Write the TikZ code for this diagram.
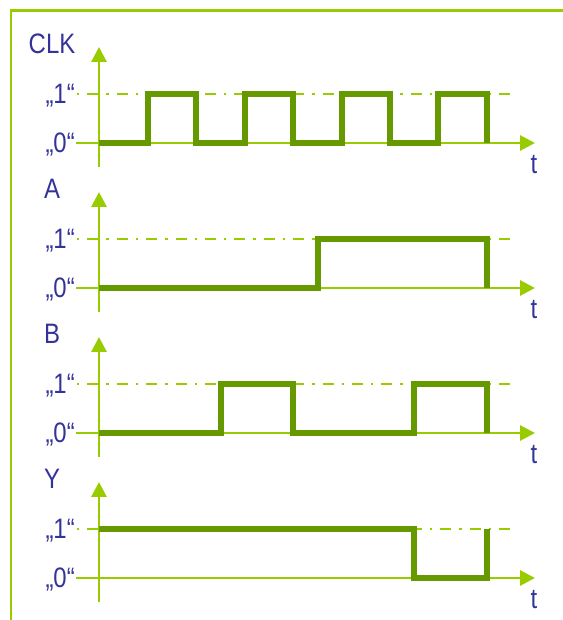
\documentclass[tikz,border=0pt]{standalone}
\usepackage{fontspec}
\setmainfont{Liberation Sans}
\newfontfamily\lblfont[FakeStretch=0.85]{Liberation Sans}
\usetikzlibrary{arrows.meta}
\definecolor{lime}{HTML}{99CC00}
\definecolor{wavegreen}{HTML}{669900}
\definecolor{navy}{HTML}{333399}
\tikzset{
  axisarrow/.style={-{Triangle[length=0.37cm,width=0.37cm]}, line width=2.1pt, color=lime},
  framebar/.style={line width=2pt, color=lime},
  lvlline/.style={line width=1.8pt, color=lime,
    dash pattern=on 0.06cm off 0.2cm on 0.275cm off 0.2cm},
  wave/.style={line width=3.6pt, color=wavegreen},
  lbl/.style={font=\lblfont\fontsize{20}{24}\selectfont, text=navy, inner sep=0pt},
}
\begin{document}
\begin{tikzpicture}[x=0.025cm, y=-0.025cm]
  \useasboundingbox (0,0) rectangle (563,620);
  \draw[framebar] (11,620) |- (563,10.5);
  % one panel per signal
  \foreach \sig/\dy in {CLK/0, A/145, B/290, Y/435} {
    \begin{scope}[shift={(0,\dy)}]
      \coordinate (\sig-bot) at (99,167);
      \coordinate (\sig-top) at (99,47);
      \coordinate (\sig-beg) at (76,143);
      \coordinate (\sig-end) at (535,143);
      \draw[lvlline] (77,94) -- (512,94);
      \draw[axisarrow] (\sig-bot) -- (\sig-top);
      \draw[axisarrow] (\sig-beg) -- (\sig-end);
      \node[lbl, anchor=base] (\sig-name) at (52,53) {\sig};
      \node[lbl, anchor=base east] (\sig-one) at (75,103.5) {„1“};
      \node[lbl, anchor=base east] (\sig-zero) at (75,152.5) {„0“};
      \node[lbl, anchor=base] (\sig-t) at (534,173) {t};
    \end{scope}
  }
  % waveforms
  \draw[wave] (99,143) -| (148,94) -| (196,143) -| (245,94) -| (293,143)
    -| (342,94) -| (390,143) -| (438,94) -| (487,143);
  \draw[wave, shift={(0,145)}] (99,143) -| (318,94) -| (487,143);
  \draw[wave, shift={(0,290)}] (99,143) -| (221,94) -| (293,143) -| (414,94) -| (487,143);
  \draw[wave, shift={(0,435)}] (99,94) -| (414,143) -| (487,94);
\end{tikzpicture}
\end{document}
